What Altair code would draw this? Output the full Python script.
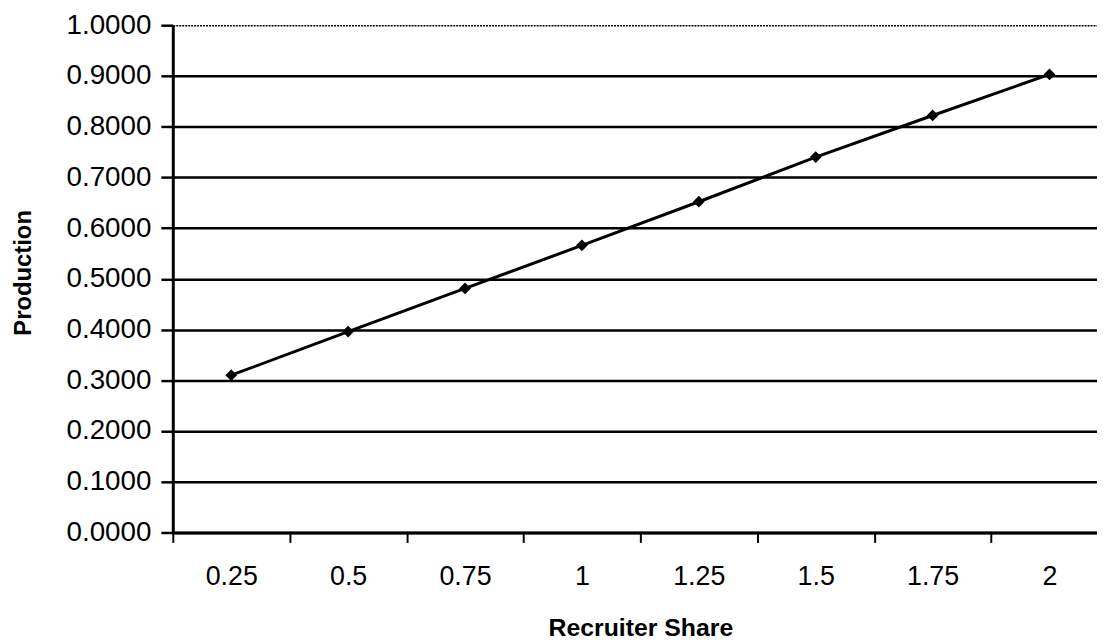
import altair as alt
import pandas as pd

shares = ["0.25", "0.5", "0.75", "1", "1.25", "1.5", "1.75", "2"]
production = [0.310, 0.396, 0.481, 0.566, 0.652, 0.740, 0.822, 0.903]
y_ticks = [0.0, 0.1, 0.2, 0.3, 0.4, 0.5, 0.6, 0.7, 0.8, 0.9, 1.0]

df = pd.DataFrame({"share": shares, "production": production})

FONT = "Arial"

x_enc = alt.X(
    "share:O",
    sort=shares,
    bandPosition=0.5,
    scale=alt.Scale(type="band", range=[0, 942], paddingInner=0, paddingOuter=0),
    axis=alt.Axis(
        title="Recruiter Share",
        tickBand="extent",
        labelAngle=0,
        labelFont=FONT,
        labelFontSize=27,
        labelColor="black",
        labelPadding=34,
        labelBaseline="middle",
        tickColor="black",
        tickWidth=2,
        tickSize=10,
        domainColor="black",
        domainWidth=3,
        grid=False,
        titleFont=FONT,
        titleFontSize=25,
        titleFontWeight="bold",
        titleColor="black",
        titleX=471,
        titleY=104,
        titleBaseline="alphabetic",
        titleAlign="center",
    ),
)

y_enc = alt.Y(
    "production:Q",
    scale=alt.Scale(domain=[0, 1], nice=False, zero=True),
    axis=alt.Axis(
        title="Production",
        values=y_ticks,
        format=".4f",
        labelFont=FONT,
        labelFontSize=28,
        labelColor="black",
        labelPadding=10,
        tickColor="black",
        tickWidth=2.5,
        tickSize=12,
        domainColor="black",
        domainWidth=3,
        grid=True,
        gridColor="black",
        gridWidth={"condition": {"test": "datum.value >= 0.99", "value": 1.5}, "value": 2.5},
        gridDash={"condition": {"test": "datum.value >= 0.99", "value": [2, 1]}, "value": []},
        gridOpacity=1,
        titleFont=FONT,
        titleFontSize=24,
        titleFontWeight="bold",
        titleColor="black",
        titleAngle=-90,
        titleX=-150,
        titleY=249,
        titleAlign="center",
        titleBaseline="middle",
    ),
)

chart = (
    alt.Chart(df)
    .mark_line(
        color="black",
        strokeWidth=3,
        point=alt.OverlayMarkDef(shape="diamond", filled=True, size=140, color="black"),
    )
    .encode(x=x_enc, y=y_enc)
    .properties(
        width=931,
        height=511,
        autosize=alt.AutoSizeParams(type="none"),
        padding={"left": 166, "top": 15, "right": 0, "bottom": 108},
        background="white",
    )
    .configure_view(strokeWidth=0)
)

chart.save("out.html", embed_options={"renderer": "svg", "actions": False})
